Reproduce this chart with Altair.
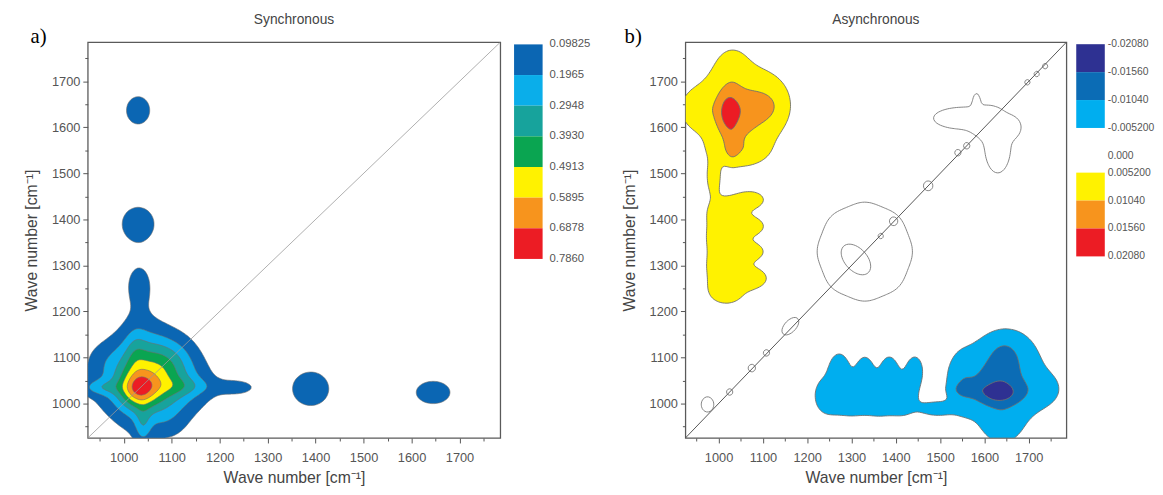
import numpy as np
import pandas as pd
import altair as alt

# ---------------- axes ----------------
AXIS_MIN, AXIS_MAX = 925, 1785
tick_values = list(range(950, 1751, 50))

# ---------------- a) synchronous map: bands ----------------
sync_cx  = [1030, 1062, 1050, 1080, 1035, 1240, 1032, 1040,  950,  955, 1095, 1130, 1025, 1100, 1030, 1030, 1390, 1645]
sync_cy  = [1030, 1062, 1050, 1035, 1080, 1035, 1262,  950, 1035, 1095,  955, 1037, 1115, 1100, 1637, 1390, 1032, 1024]
sync_sx  = [  25,   55,   85,  100,   35,   28,   24,   12,   30,   30,   30,   45,   15,   30,   22,   30,   34,   32]
sync_sy  = [  25,   55,   85,   35,  100,   12,   40,   30,   12,   30,   30,   14,   40,   30,   27,   33,   33,   22]
sync_amp = [0.26, 0.28, 0.16, 0.07, 0.07, 0.12, 0.12, 0.13, 0.13, 0.05, 0.05, 0.09, 0.07, 0.05, 0.18, 0.18, 0.18, 0.18]

sync_levels = [0.09825, 0.1965, 0.2948, 0.3930, 0.4913, 0.5895, 0.6878, 0.7860]
sync_labels = ["0.09825", "0.1965", "0.2948", "0.3930", "0.4913", "0.5895", "0.6878", "0.7860"]
sync_colors = ["#0b66b3", "#0aaeea", "#17a39c", "#0aa551", "#fff200", "#f7941d", "#ec1c24"]

# ---------------- b) asynchronous map: positive lobe (map = H - H^T) ----------------
asyn_cx  = [1045, 1022, 1060, 1095, 1120,  950, 1030, 1030, 1045, 1017, 1017, 1017, 1017,  988, 1082, 1077, 1077, 1077]
asyn_cy  = [1640, 1632, 1630, 1642, 1655, 1640, 1740, 1560, 1545, 1240, 1300, 1360, 1420, 1490, 1272, 1330, 1385, 1443]
asyn_sx  = [  95,   18,   35,   25,   30,   25,   25,   10,   45,   45,   45,   45,   45,   12,   25,   24,   24,   24]
asyn_sy  = [  90,   35,   45,   18,   35,   25,   30,   25,   22,   30,   30,   30,   30,   25,   16,   14,   14,   14]
asyn_amp = [.009, .0085, .0035, .0025, .0025, .004, .003, .003, .004, .0066, .0066, .0066, .0066, .006, .007, .006, .006, .006]

asyn_neg_levels = [-0.0208, -0.0156, -0.0104, -0.0052]
asyn_neg_colors = ["#2e3192", "#0b6cb5", "#00aeef"]
asyn_pos_levels = [0.0052, 0.0104, 0.0156, 0.0208]
asyn_pos_colors = ["#fff200", "#f7941d", "#ec1c24"]
asyn_neg_labels = ["-0.02080", "-0.01560", "-0.01040", "-0.005200"]
asyn_zero_label = "0.000"
asyn_pos_labels = ["0.005200", "0.01040", "0.01560", "0.02080"]

# zero-level outlines near the diagonal (groups contoured separately)
out_grp = ["A"] * 9 + ["B"] * 5 + ["C"] + ["D"] * 13
out_cx = [1330, 1400, 1380, 1330, 1280, 1260, 1280, 1330, 1380,
          1550, 1630, 1582, 1600, 1662,
          1310,
          975, 1025, 1075, 1108, 1162, 1366, 1395, 1473, 1540, 1560, 1697, 1718, 1737]
out_cy = [1330, 1330, 1380, 1400, 1380, 1330, 1280, 1260, 1280,
          1620, 1560, 1655, 1610, 1600,
          1313,
          998, 1025, 1077, 1110, 1168, 1364, 1396, 1473, 1545, 1560, 1698, 1716, 1733]
out_sx = [52, 26, 26, 26, 26, 26, 26, 26, 26,
          55, 25, 6, 20, 15,
          34,
          12, 6, 7, 6, 20, 5, 8, 9, 6, 6, 5, 5, 5]
out_sy = [52, 26, 26, 26, 26, 26, 26, 26, 26,
          20, 50, 15, 20, 15,
          21,
          14, 6, 7, 6, 11, 5, 8, 9, 6, 6, 5, 5, 5]
out_ang = [0] * 14 + [-45] + [0, 0, 0, 0, 45, 0, 0, 0, 0, 0, 0, 0, 0]

diag_vals = [AXIS_MIN, AXIS_MAX]

# ---------------- field + contour helpers ----------------
GRID = np.arange(AXIS_MIN, AXIS_MAX + 1, 4.0)
GX, GY = np.meshgrid(GRID, GRID)


def field(cx, cy, sx, sy, amp, ang=None):
    F = np.zeros_like(GX)
    for k in range(len(cx)):
        dx = GX - cx[k]
        dy = GY - cy[k]
        if ang is not None and ang[k]:
            t = np.deg2rad(ang[k])
            c, s = np.cos(t), np.sin(t)
            dx, dy = c * dx + s * dy, -s * dx + c * dy
        F += amp[k] * np.exp(-0.5 * ((dx / sx[k]) ** 2 + (dy / sy[k]) ** 2))
    return F


PAIRS = {1: [(3, 0)], 2: [(0, 1)], 3: [(3, 1)], 4: [(1, 2)], 6: [(0, 2)], 7: [(3, 2)],
         8: [(2, 3)], 9: [(0, 2)], 11: [(1, 2)], 12: [(1, 3)], 13: [(0, 1)], 14: [(0, 3)]}


def trace(Z, level):
    n0, n1 = Z.shape
    low = min(float(Z.min()), level) - 1.0
    Zp = np.full((n0 + 2, n1 + 2), low)
    Zp[1:-1, 1:-1] = Z
    cp = np.concatenate([[GRID[0]], GRID, [GRID[-1]]])
    B = (Zp >= level).astype(np.int16)
    code = B[:-1, :-1] | (B[:-1, 1:] << 1) | (B[1:, 1:] << 2) | (B[1:, :-1] << 3)
    adj = {}

    def add(a, b):
        adj.setdefault(a, []).append(b)
        adj.setdefault(b, []).append(a)

    for i, j in np.argwhere((code > 0) & (code < 15)):
        c = int(code[i, j])
        e = [("h", i, j), ("v", i, j + 1), ("h", i + 1, j), ("v", i, j)]
        if c in (5, 10):
            centre_in = Zp[i:i + 2, j:j + 2].mean() >= level
            if (c == 5) == centre_in:
                pr = [(0, 1), (2, 3)]
            else:
                pr = [(3, 0), (1, 2)]
        else:
            pr = PAIRS[c]
        for a, b in pr:
            add(e[a], e[b])

    def pt(key):
        kind, i, j = key
        if kind == "h":
            z0, z1 = Zp[i, j], Zp[i, j + 1]
            t = (level - z0) / (z1 - z0)
            return cp[j] + t * (cp[j + 1] - cp[j]), cp[i]
        z0, z1 = Zp[i, j], Zp[i + 1, j]
        t = (level - z0) / (z1 - z0)
        return cp[j], cp[i] + t * (cp[i + 1] - cp[i])

    seen = set()
    loops = []
    for start in adj:
        if start in seen:
            continue
        seen.add(start)
        loop = [start]
        cur = start
        while True:
            cand = [n for n in adj[cur] if n not in seen]
            if not cand:
                break
            cur = cand[0]
            seen.add(cur)
            loop.append(cur)
        if len(loop) >= 3:
            loops.append([pt(k) for k in loop])
    return loops


def contour_df(Z, level, tag):
    rows = []
    for p, loop in enumerate(trace(Z, level)):
        for i, (x, y) in enumerate(loop + [loop[0]]):
            rows.append((f"{tag}{p}", i, round(float(x), 1), round(float(y), 1)))
    return pd.DataFrame(rows, columns=["pid", "i", "x", "y"])


# ---------------- styling ----------------
FONT = "Liberation Sans"
GREY = "#555555"
SCALE = alt.Scale(domain=[AXIS_MIN, AXIS_MAX], nice=False, zero=False)
TICK = {"condition": {"test": "datum.value % 100 === 0", "value": 5}, "value": 3}
AX = dict(values=tick_values, format="d", labelExpr="datum.value % 100 === 0 ? datum.label : ''",
          title="Wave number [cm⁻¹]", domain=False, grid=False, tickSize=TICK, tickColor=GREY,
          tickWidth=1, labelColor=GREY, labelFont=FONT, labelFontSize=13,
          titleFont=FONT, titleFontSize=16, titleFontWeight="normal", titleColor="#444444")
X_ENC = alt.X("x:Q", scale=SCALE, axis=alt.Axis(titlePadding=5, labelPadding=9, **AX))
Y_ENC = alt.Y("y:Q", scale=SCALE, axis=alt.Axis(titlePadding=12, labelPadding=3, **AX))


def poly_layer(df, fill=None, stroke="#6f6f6f", sw=0.8):
    kw = dict(stroke=stroke, strokeWidth=sw, clip=True)
    if fill is not None:
        kw["fill"] = fill
    return alt.Chart(df).mark_line(**kw).encode(x=X_ENC, y=Y_ENC, detail="pid:N", order="i:Q")


def diag_layer(color, sw):
    d = pd.DataFrame({"x": diag_vals, "y": diag_vals})
    return alt.Chart(d).mark_line(color=color, strokeWidth=sw, clip=True).encode(x=X_ENC, y=Y_ENC)


def colorbar(lo, hi, colors, lab_pos, labels, units, x0, fsize, gap):
    ysc = alt.Scale(domain=[-0.07, units], reverse=True, nice=False, zero=False)
    bars = pd.DataFrame({"lo": lo, "hi": hi, "c": colors})
    labs = pd.DataFrame({"p": lab_pos, "t": labels})
    r = alt.Chart(bars).mark_rect().encode(
        x=alt.value(x0), x2=alt.value(x0 + 29),
        y=alt.Y("lo:Q", scale=ysc, axis=None), y2="hi:Q",
        color=alt.Color("c:N", scale=None))
    t = alt.Chart(labs).mark_text(align="left", baseline="middle", font=FONT,
                                  fontSize=fsize, color=GREY).encode(
        x=alt.value(x0 + gap), y=alt.Y("p:Q", scale=ysc, axis=None), text="t:N")
    return alt.layer(r, t)


def panel_tag(txt, x):
    return alt.Chart(pd.DataFrame({"t": [txt]})).mark_text(
        font="Liberation Serif", fontSize=21, align="center", baseline="middle", color="black"
    ).encode(x=alt.value(x), y=alt.value(-5), text="t:N")


TITLE = dict(font=FONT, fontSize=14, fontWeight="normal", color="#444444", offset=0)

# ---------------- panel a) ----------------
S = field(sync_cx, sync_cy, sync_sx, sync_sy, sync_amp)
sync_layers = [poly_layer(contour_df(S, lev, f"s{k}_"), fill=sync_colors[k], sw=0.6)
               for k, lev in enumerate(sync_levels[:-1])]
sync_layers.append(diag_layer("#9a9a9a", 0.8))
n = len(sync_colors)
cb_a = colorbar(list(range(n)), list(range(1, n + 1)), sync_colors,
                list(range(n + 1)), sync_labels, 402 / 31.3, 433, 11.5, 36)
left = alt.layer(alt.layer(*sync_layers), cb_a, panel_tag("a)", -50)).resolve_scale(
    y="independent").properties(width=419, height=402, title=alt.Title("Synchronous", **TITLE))

# ---------------- panel b) ----------------
H = field(asyn_cx, asyn_cy, asyn_sx, asyn_sy, asyn_amp)
A = H - H.T
asyn_layers = []
for k, lev in enumerate(asyn_pos_levels[:-1]):
    asyn_layers.append(poly_layer(contour_df(A, lev, f"p{k}_"), fill=asyn_pos_colors[k], sw=0.9))
for k, lev in enumerate(asyn_neg_levels[::-1][:-1]):
    col = asyn_neg_colors[::-1][k]
    asyn_layers.append(poly_layer(contour_df(-A, -lev, f"n{k}_"), fill=col, sw=0.9))
for g in ["A", "B", "C", "D"]:
    idx = [i for i, gg in enumerate(out_grp) if gg == g]
    G = field([out_cx[i] for i in idx], [out_cy[i] for i in idx], [out_sx[i] for i in idx],
              [out_sy[i] for i in idx], [1.0] * len(idx), [out_ang[i] for i in idx])
    asyn_layers.append(poly_layer(contour_df(G, 0.5, f"o{g}_"), stroke="#777777", sw=0.9))
asyn_layers.append(diag_layer("#555555", 1.0))

nn = len(asyn_neg_colors)
lo_b = list(range(nn)) + [4.6 + i for i in range(nn)]
hi_b = [v + 1 for v in lo_b]
pos_b = list(range(nn + 1)) + [4.0] + [4.6 + i for i in range(nn + 1)]
labs_b = asyn_neg_labels + [asyn_zero_label] + asyn_pos_labels
cb_b = colorbar(lo_b, hi_b, asyn_neg_colors + asyn_pos_colors, pos_b, labs_b,
                402 / 28.5, 397, 10.5, 32)
right = alt.layer(alt.layer(*asyn_layers), cb_b, panel_tag("b)", -53)).resolve_scale(
    y="independent").properties(width=387, height=402, title=alt.Title("Asynchronous", **TITLE))

chart = alt.hconcat(left, right, spacing=29).properties(
    padding={"left": 15, "top": 0, "right": 0, "bottom": 0}
).configure_view(stroke="#5a5a5a", strokeWidth=1.3)

chart.save("out.html", embed_options={"renderer": "svg", "actions": False})
